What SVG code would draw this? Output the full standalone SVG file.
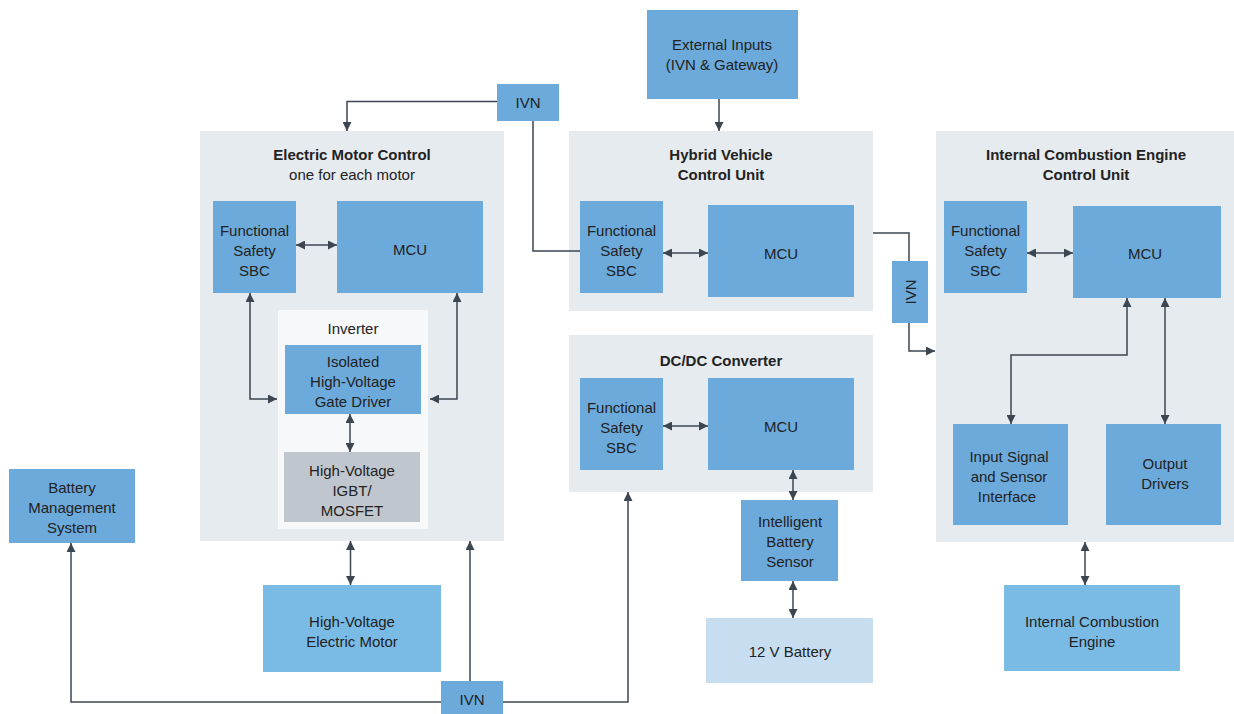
<svg xmlns="http://www.w3.org/2000/svg" width="1234" height="714" viewBox="0 0 1234 714">
<style>
text{font-family:"Liberation Sans",Arial,sans-serif;font-size:15px;fill:#222;text-anchor:middle;dominant-baseline:central}
.t{font-weight:bold}
.c{fill:#e6ebf0}
.b{fill:#6caadb}
.l{fill:#7abbe6}
.p{fill:#c6def0}
.g{fill:#c0c6ce}
.w{fill:#f7f8fa}
.k path{fill:none;stroke:#3c4650;stroke-width:1.5}
</style>
<defs>
<marker id="a" viewBox="0 0 10 10" refX="10" refY="5" markerWidth="9" markerHeight="9" markerUnits="userSpaceOnUse" orient="auto-start-reverse">
<path d="M0,0 L10,5 L0,10 z" fill="#3c4650"/>
</marker>
</defs>
<g id="emc">
<rect class="c" x="200" y="131" width="304" height="410"/>
<text class="t" x="352" y="154">Electric Motor Control</text>
<text x="352" y="174">one for each motor</text>
</g>
<g id="emc-sbc"><rect class="b" x="213" y="201" width="83" height="92"/><text x="254.5" y="230">Functional</text><text x="254.5" y="250">Safety</text><text x="254.5" y="270">SBC</text></g>
<g id="emc-mcu"><rect class="b" x="337" y="201" width="146" height="92"/><text x="410" y="249">MCU</text></g>
<g id="inverter"><rect class="w" x="278" y="310" width="150" height="219"/><text x="353" y="328">Inverter</text></g>
<g id="gate-driver"><rect class="b" x="285" y="345" width="136" height="69"/><text x="353" y="361">Isolated</text><text x="353" y="381">High-Voltage</text><text x="353" y="401">Gate Driver</text></g>
<g id="igbt"><rect class="g" x="284" y="452" width="136" height="70"/><text x="352" y="470">High-Voltage</text><text x="352" y="490">IGBT/</text><text x="352" y="510">MOSFET</text></g>
<g id="hv-motor"><rect class="l" x="263" y="585" width="178" height="87"/><text x="352" y="621">High-Voltage</text><text x="352" y="641">Electric Motor</text></g>
<g id="bms"><rect class="b" x="9" y="469" width="126" height="74"/><text x="72" y="487">Battery</text><text x="72" y="507">Management</text><text x="72" y="527">System</text></g>
<g id="ivn-top"><rect class="b" x="497" y="84" width="62" height="37"/><text x="528" y="102.5">IVN</text></g>
<g id="ivn-bottom"><rect class="b" x="441" y="681" width="62" height="33"/><text x="472" y="699">IVN</text></g>
<g id="ext"><rect class="b" x="647" y="10" width="151" height="89"/><text x="722" y="44">External Inputs</text><text x="722" y="64">(IVN &amp; Gateway)</text></g>
<g id="hvcu">
<rect class="c" x="569" y="131" width="304" height="180"/>
<text class="t" x="721" y="154">Hybrid Vehicle</text>
<text class="t" x="721" y="174">Control Unit</text>
</g>
<g id="hvcu-sbc"><rect class="b" x="580" y="201" width="83" height="92"/><text x="621.5" y="230">Functional</text><text x="621.5" y="250">Safety</text><text x="621.5" y="270">SBC</text></g>
<g id="hvcu-mcu"><rect class="b" x="708" y="205" width="146" height="92"/><text x="781" y="253">MCU</text></g>
<g id="dcdc">
<rect class="c" x="569" y="335" width="304" height="157"/>
<text class="t" x="721" y="360">DC/DC Converter</text>
</g>
<g id="dcdc-sbc"><rect class="b" x="580" y="378" width="83" height="92"/><text x="621.5" y="407">Functional</text><text x="621.5" y="427">Safety</text><text x="621.5" y="447">SBC</text></g>
<g id="dcdc-mcu"><rect class="b" x="708" y="378" width="146" height="92"/><text x="781" y="426">MCU</text></g>
<g id="ibs"><rect class="b" x="741" y="500" width="97" height="81"/><text x="790" y="521">Intelligent</text><text x="790" y="541">Battery</text><text x="790" y="561">Sensor</text></g>
<g id="battery12"><rect class="p" x="706" y="618" width="167" height="65"/><text x="790" y="651">12 V Battery</text></g>
<g id="ivn-vert"><rect class="b" x="892" y="261" width="36" height="62"/><text transform="translate(910.5 292) rotate(-90)">IVN</text></g>
<g id="ice">
<rect class="c" x="936" y="131" width="298" height="411"/>
<text class="t" x="1086" y="154">Internal Combustion Engine</text>
<text class="t" x="1086" y="174">Control Unit</text>
</g>
<g id="ice-sbc"><rect class="b" x="944" y="201" width="83" height="92"/><text x="985.5" y="230">Functional</text><text x="985.5" y="250">Safety</text><text x="985.5" y="270">SBC</text></g>
<g id="ice-mcu"><rect class="b" x="1073" y="206" width="148" height="92"/><text x="1145" y="253">MCU</text></g>
<g id="input-signal"><rect class="b" x="953" y="424" width="115" height="101"/><text x="1009" y="456">Input Signal</text><text x="1009" y="476">and Sensor</text><text x="1007" y="496">Interface</text></g>
<g id="output-drivers"><rect class="b" x="1106" y="424" width="115" height="101"/><text x="1165" y="463">Output</text><text x="1165" y="483">Drivers</text></g>
<g id="ice-engine"><rect class="l" x="1004" y="585" width="176" height="86"/><text x="1092" y="621">Internal Combustion</text><text x="1092" y="641">Engine</text></g>
<g id="connectors" class="k">
<path d="M719 99 V131" marker-end="url(#a)"/>
<path d="M497 101.5 H347 V131" marker-end="url(#a)"/>
<path d="M533 121 V251 H580"/>
<path d="M296 245 H337" marker-start="url(#a)" marker-end="url(#a)"/>
<path d="M250 293 V399 H277" marker-start="url(#a)" marker-end="url(#a)"/>
<path d="M457 293 V399 H430" marker-start="url(#a)" marker-end="url(#a)"/>
<path d="M350 414 V452" marker-start="url(#a)" marker-end="url(#a)"/>
<path d="M350.5 541 V585" marker-start="url(#a)" marker-end="url(#a)"/>
<path d="M663 253 H708" marker-start="url(#a)" marker-end="url(#a)"/>
<path d="M873 233 H909 V261"/>
<path d="M909 323 V351 H935" marker-end="url(#a)"/>
<path d="M1027 253 H1073" marker-start="url(#a)" marker-end="url(#a)"/>
<path d="M1127 298 V355 H1011 V424" marker-start="url(#a)" marker-end="url(#a)"/>
<path d="M1165 298 V424" marker-start="url(#a)" marker-end="url(#a)"/>
<path d="M1085 542 V585" marker-start="url(#a)" marker-end="url(#a)"/>
<path d="M663 426 H708" marker-start="url(#a)" marker-end="url(#a)"/>
<path d="M793 470 V500" marker-start="url(#a)" marker-end="url(#a)"/>
<path d="M793 581 V618" marker-start="url(#a)" marker-end="url(#a)"/>
<path d="M470 681 V541" marker-end="url(#a)"/>
<path d="M441 702 H71 V543" marker-end="url(#a)"/>
<path d="M503 702 H628 V492" marker-end="url(#a)"/>
</g>
</svg>
